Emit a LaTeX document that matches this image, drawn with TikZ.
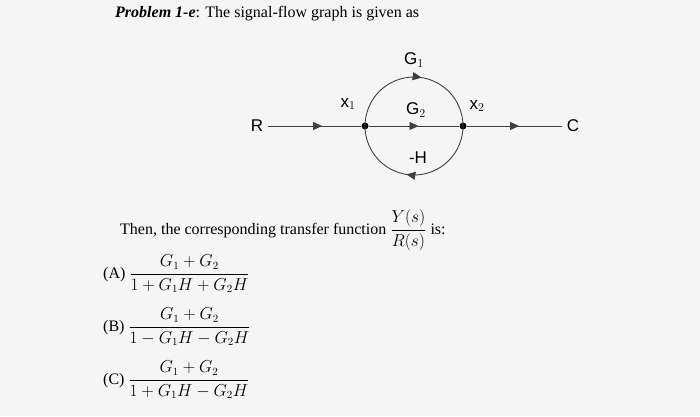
\documentclass[tikz,border=0pt]{standalone}
\usepackage{amsmath}
\usepackage{fontspec}
\setmainfont{Liberation Serif}
\setsansfont{Liberation Sans}
\usetikzlibrary{decorations.markings,arrows.meta}
\begin{document}
\begin{tikzpicture}[x=1pt,y=-1pt,
  sig/.style={line width=0.9pt,color=black!75,postaction={decorate},decoration={markings,mark=at position #1 with {\arrow{Triangle[length=9pt,width=8pt]}}}},
  glab/.style={font=\sffamily\fontsize{17}{17}\selectfont},
  dot/.style={circle,fill=black,inner sep=0pt,minimum size=7pt},
  txt/.style={font=\fontsize{16}{18}\selectfont,anchor=west,inner sep=0pt}]
\fill[black!4] (0,0) rectangle (700,416);
\node[txt] (title) at (115,14) {\textbf{\textit{Problem 1-e}}: The signal-flow graph is given as};
\node[dot] (x1) at (365,126) {};
\node[dot] (x2) at (463,126) {};
\coordinate (R) at (268,126);
\coordinate (C) at (562,126);
\node[glab] (Rl) at (257,126) {R};
\node[glab] (Cl) at (573,126) {C};
\draw[sig=0.58] (R) -- (x1);
\draw[sig=0.55] (x1) -- (x2);
\draw[sig=0.55] (x2) -- (C);
\draw[sig=0.55] (x1) arc[start angle=180,end angle=360,radius=49];
\draw[sig=0.55] (x2) arc[start angle=0,end angle=180,radius=49];
\node[glab] (g1) at (414,60) {G$_1$};
\node[glab] (g2) at (416,110) {G$_2$};
\node[glab] (h) at (418,158) {-H};
\node[glab] (x1l) at (348,104) {x$_1$};
\node[glab] (x2l) at (477,106) {x$_2$};
\node[txt] (then) at (120,230) {Then, the corresponding transfer function $\dfrac{Y(s)}{R(s)}$ is:};
\node[txt] (a) at (103,274) {(A) $\dfrac{G_1+G_2}{1+G_1H+G_2H}$};
\node[txt] (b) at (103,327) {(B) $\dfrac{G_1+G_2}{1-G_1H-G_2H}$};
\node[txt] (c) at (103,380) {(C) $\dfrac{G_1+G_2}{1+G_1H-G_2H}$};
\end{tikzpicture}
\end{document}
